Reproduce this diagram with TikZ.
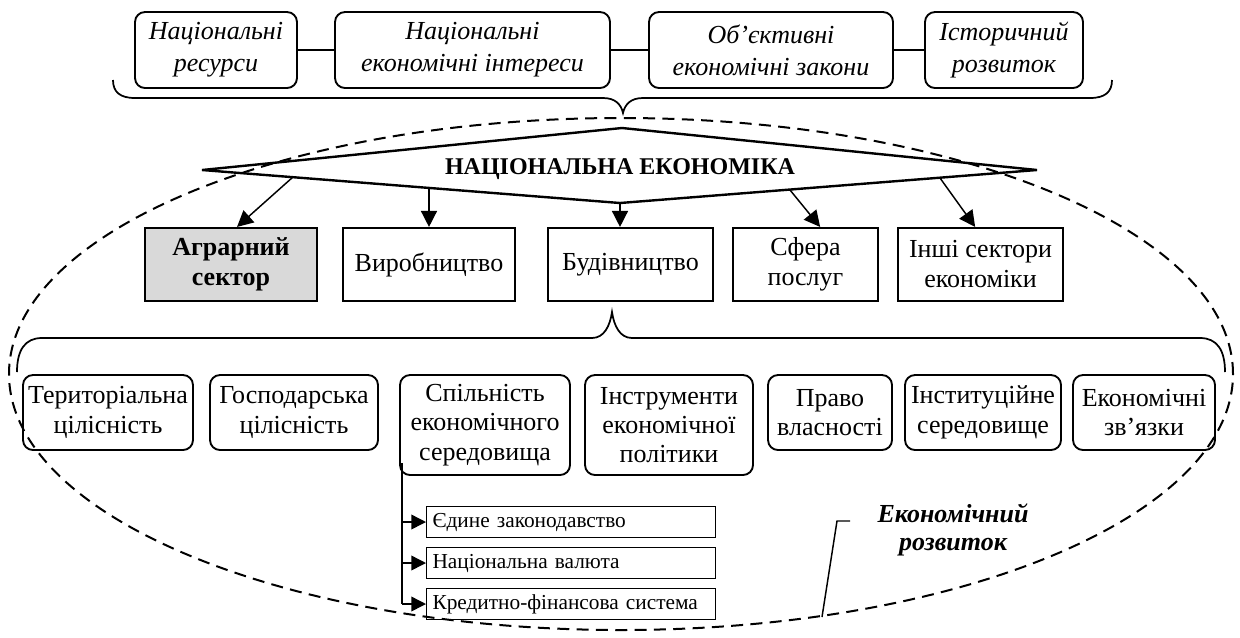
\documentclass[tikz,border=0pt]{standalone}
\usepackage{fontspec}
\setmainfont{Liberation Serif}
\usetikzlibrary{arrows.meta}
\definecolor{agrgray}{HTML}{D9D9D9}
\begin{document}
\begin{tikzpicture}[x=0.75pt,y=-0.75pt,
  every node/.style={inner sep=0pt, align=center},
  sz/.style 2 args={minimum width=#1*0.75pt, minimum height=#2*0.75pt},
  topbox/.style={draw, line width=1.4pt, rounded corners=7.5pt, font=\fontsize{19.5}{24}\selectfont\itshape},
  secbox/.style={draw, line width=1.6pt, font=\fontsize{19.5}{22.5}\selectfont},
  lowbox/.style={draw, line width=1.4pt, rounded corners=7.5pt, font=\fontsize{19.5}{22}\selectfont},
  subbox/.style={draw, line width=0.8pt, align=left, anchor=west, inner xsep=4.5pt,
                 text width=207.75pt, minimum height=23pt, font=\fontsize{16}{18}\selectfont},
  conn/.style={line width=1.1pt},
  bracepath/.style={line width=1.3pt},
  diam/.style={line width=1.8pt, line join=miter},
  arr/.style={line width=1.1pt, -{Triangle[length=12pt,width=12pt]}},
  subarr/.style={line width=1.1pt, -{Triangle[length=11pt,width=11pt]}},
  ell/.style={line width=1.5pt, dash pattern=on 9pt off 5.5pt}
]
\useasboundingbox (0,0) rectangle (1240,637);

% top boxes
\node[topbox, sz={162}{76}] (b1) at (216,50) {Національні\\ресурси};
\node[topbox, sz={275}{76}] (b2) at (472.5,50) {Національні\\економічні інтереси};
\node[topbox, sz={244}{76}] (b3) at (771,50) {Об’єктивні\\економічні закони};
\node[topbox, sz={158}{76}] (b4) at (1004,50) {Історичний\\розвиток};
\draw[conn] (b1) -- (b2);
\draw[conn] (b2) -- (b3);
\draw[conn] (b3) -- (b4);

% top brace
\draw[bracepath] (113,80) .. controls (113,92) and (120,98) .. (135,98) -- (603,98)
  .. controls (615,98) and (621,104) .. (623,113)
  .. controls (625,104) and (631,98) .. (643,98) -- (1090,98)
  .. controls (1105,98) and (1112,92) .. (1112,80);

% diamond
\coordinate (dl) at (202,170);
\coordinate (dt) at (622,128);
\coordinate (dr) at (1037,170);
\coordinate (db) at (620,203);
\draw[diam] (dl) -- (dt) -- (dr) -- (db) -- cycle;
\node[font=\bfseries\fontsize{18}{20}\selectfont] (ne) at (620,169) {НАЦІОНАЛЬНА ЕКОНОМІКА};

% sector boxes
\node[secbox, sz={172}{73}, fill=agrgray, font=\bfseries\fontsize{19.5}{22.5}\selectfont] (agr) at (231,264.5) {Аграрний\\сектор};
\node[secbox, sz={172}{73}] (vir) at (429,264.5) {Виробництво};
\node[secbox, sz={165}{73}] (bud) at (630.5,264.5) {Будівництво};
\node[secbox, sz={145}{73}] (sfe) at (805.5,264.5) {Сфера\\послуг};
\node[secbox, sz={165}{73}] (inshi) at (980.5,264.5) {Інші сектори\\економіки};

% arrows from diamond
\coordinate (s1) at (293,177);
\coordinate (s2) at (429,188);
\coordinate (s4) at (790,190);
\coordinate (s5) at (940,178);
\draw[arr] (s1) -- ([xshift=4.5pt]agr.north);
\draw[arr] (s2) -- (vir.north);
\draw[arr] (db) -- (db |- bud.north);
\draw[arr] (s4) -- ([xshift=11pt]sfe.north);
\draw[arr] (s5) -- ([xshift=-4pt]inshi.north);

% lower brace
\draw[bracepath] (17,372) .. controls (17,350) and (25,338) .. (42,338) -- (592,338)
  .. controls (604,338) and (610,326) .. (612,312)
  .. controls (614,326) and (620,338) .. (632,338) -- (1200,338)
  .. controls (1217,338) and (1225,350) .. (1225,372);

% lower boxes
\node[lowbox, sz={170}{75}] (t1) at (108,412.5) {Територіальна\\цілісність};
\node[lowbox, sz={168}{75}] (t2) at (294,412.5) {Господарська\\цілісність};
\node[lowbox, sz={170}{100}] (t3) at (485,425) {Спільність\\економічного\\середовища};
\node[lowbox, sz={168}{100}] (t4) at (669,425) {Інструменти\\економічної\\політики};
\node[lowbox, sz={124}{75}] (t5) at (830,412.5) {Право\\власності};
\node[lowbox, sz={156}{75}] (t6) at (983,412.5) {Інституційне\\середовище};
\node[lowbox, sz={142}{75}] (t7) at (1144,412.5) {Економічні\\зв’язки};

% sub boxes
\node[subbox] (u1) at (426,522) {Єдине законодавство};
\node[subbox] (u2) at (426,563) {Національна валюта};
\node[subbox] (u3) at (426,604) {Кредитно-фінансова система};
\coordinate (tr) at (402,463);
\draw[conn] (tr) -- (tr |- u3.west);
\draw[subarr] (tr |- u1.west) -- (u1.west);
\draw[subarr] (tr |- u2.west) -- (u2.west);
\draw[subarr] (tr |- u3.west) -- (u3.west);

% economic development label
\node[font=\bfseries\itshape\fontsize{19.5}{20.5}\selectfont] (er) at (953,530) {Економічний\\розвиток};
\coordinate (l1) at (822,617);
\coordinate (l2) at (837,521);
\coordinate (l3) at (850,521);
\draw[conn] (l1) -- (l2) -- (l3);

% dashed ellipse
\draw[ell] (621,374) ellipse [x radius=459pt, y radius=192pt];
\end{tikzpicture}
\end{document}
